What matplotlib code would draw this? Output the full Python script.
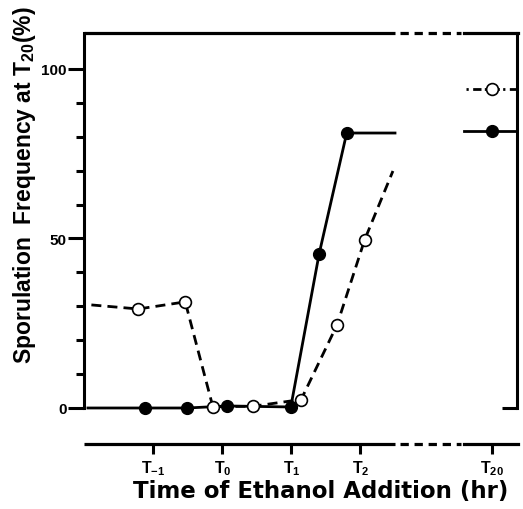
import matplotlib
matplotlib.use("Agg")
import matplotlib.pyplot as plt
from matplotlib.ticker import FixedLocator

plt.rcParams['font.family'] = ['Liberation Sans', 'DejaVu Sans']
plt.rcParams['font.weight'] = 'bold'
plt.rcParams['mathtext.default'] = 'regular'

# Time of ethanol addition (hr relative to T0) and sporulation frequency (%)
hours_filled = [-1.12, -0.51, 0.07, 0.99, 1.40, 1.80]
freq_filled = [0.0, 0.0, 0.6, 0.3, 45.4, 81.1]
hours_open = [-1.22, -0.54, -0.14, 0.44, 1.14, 1.66, 2.06]
freq_open = [29.2, 31.3, 0.4, 0.5, 2.5, 24.5, 49.6]

# Trend lines run from the left axis up to the axis break
filled_line_x = [-1.95] + hours_filled + [2.50]
filled_line_y = [0.0] + freq_filled + [81.1]
open_line_x = [-1.90] + hours_open + [2.47]
open_line_y = [30.4] + freq_open + [69.9]

# Final frequencies at T20
t20_filled = 81.8
t20_open = 94.1

tick_hours = [-1, 0, 1, 2]
tick_names = ['$T_{-1}$', '$T_0$', '$T_1$', '$T_2$', '$T_{20}$']
y_major = [0, 50, 100]
y_minor = [10, 20, 30, 40, 60, 70, 80, 90]

# Broken time axis: T20 is drawn past the break
t20_pos = 3.90
brk_lo, brk_hi = 2.50, 3.50
xmin, xmax = -2.007, 4.268
ymin, ymax = -10.62, 110.6

W, H = 523, 510
fig = plt.figure(figsize=(W / 100, H / 100), dpi=100)
ax = fig.add_axes([84 / W, 1 - 445 / H, 433 / W, 411 / H])
ax.set_xlim(xmin, xmax)
ax.set_ylim(ymin, ymax)

for side in ('top', 'bottom'):
    ax.spines[side].set_visible(False)
for side in ('left', 'right'):
    ax.spines[side].set_linewidth(2.2)
    ax.spines[side].set_bounds(0, ymax)
    ax.spines[side].set_capstyle('projecting')

# y axis
ax.yaxis.set_major_locator(FixedLocator(y_major))
ax.yaxis.set_minor_locator(FixedLocator(y_minor))
ax.tick_params(axis='y', which='major', direction='out', length=11.5, width=2.2,
               labelsize=11, pad=1)
ax.tick_params(axis='y', which='minor', direction='out', length=5.5, width=2.2)

# inward tick at zero on the right side
axr = ax.twinx()
axr.set_ylim(ymin, ymax)
for s in axr.spines.values():
    s.set_visible(False)
axr.set_yticks([0])
axr.set_yticklabels([])
axr.tick_params(axis='y', direction='in', length=11, width=2.2)
axr.set_xticks([])

# x axis (separate line below the frame, with a break)
ax.set_xticks(tick_hours + [t20_pos])
ax.set_xticklabels(tick_names, fontsize=11.5)
ax.tick_params(axis='x', direction='out', length=7.5, width=2.2, pad=3)

xt = ax.get_xaxis_transform()
for yy in (0, 1):
    ax.plot([xmin, brk_lo], [yy, yy], color='k', lw=2.3, transform=xt,
            clip_on=False, solid_capstyle='butt')
    ax.plot([brk_lo + 0.07, brk_hi - 0.05], [yy, yy], color='k', lw=2.3,
            transform=xt, clip_on=False, dashes=(2.6, 1.8), dash_capstyle='butt')
    ax.plot([brk_hi, xmax + 0.01], [yy, yy], color='k', lw=2.3, transform=xt,
            clip_on=False, solid_capstyle='projecting')

# data lines
ax.plot(open_line_x, open_line_y, color='k', lw=2.0, dashes=(3.6, 2.2), zorder=3)
ax.plot(filled_line_x, filled_line_y, color='k', lw=2.0, zorder=3)
ax.plot([brk_hi, xmax], [t20_filled, t20_filled], color='k', lw=2.0, zorder=3)
ax.plot([brk_hi + 0.03, xmax], [t20_open, t20_open], color='k', lw=2.0,
        dashes=(0.8, 1.6, 3.0, 1.2), zorder=3)

# markers
ax.plot(hours_filled + [t20_pos], freq_filled + [t20_filled], 'o', ms=8.5,
        mfc='k', mec='k', zorder=4, clip_on=False)
ax.plot(hours_open + [t20_pos], freq_open + [t20_open], 'o', ms=8.5,
        mfc='white', mec='k', mew=1.2, zorder=5, clip_on=False)

# axis titles
fig.text(25 / W, 1 - 185 / H, 'Sporulation  Frequency at T$_{20}$(%)',
         rotation=90, ha='center', va='center', fontsize=16.5,
         fontweight='bold')
fig.text(321 / W, 1 - 492 / H, 'Time of Ethanol Addition (hr)',
         ha='center', va='center', fontsize=16.5, fontweight='bold',
         family=['DejaVu Sans'])

fig.savefig('out.png', dpi=100)
